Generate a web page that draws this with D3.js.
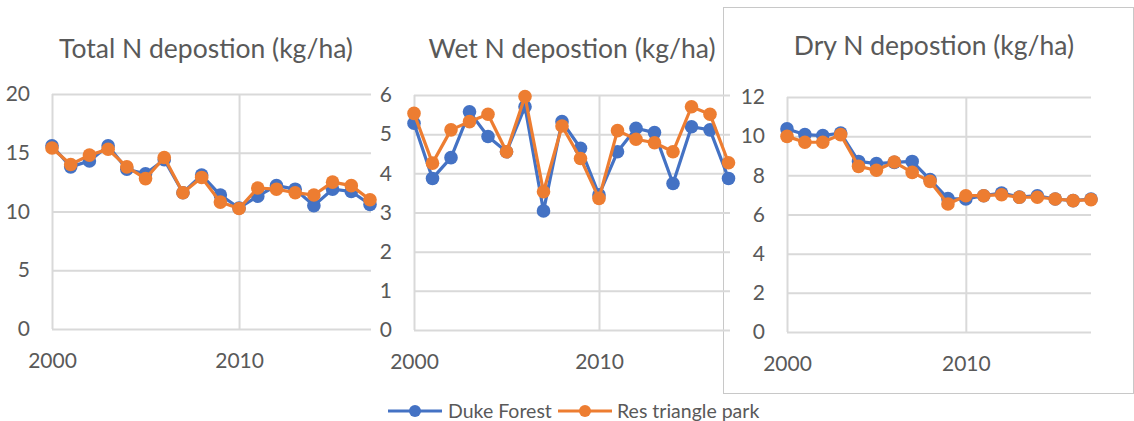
<!DOCTYPE html>
<html>
<head>
<meta charset="utf-8">
<script src="https://cdn.jsdelivr.net/npm/d3@7/dist/d3.min.js"></script>
<style>
  body { margin: 0; background: #fff; }
  text { font-family: Lato, "Open Sans", sans-serif; fill: #595959; }
</style>
</head>
<body>
<div id="chart"></div>
<script>
// Data
const years = [2000, 2001, 2002, 2003, 2004, 2005, 2006, 2007, 2008,
  2009, 2010, 2011, 2012, 2013, 2014, 2015, 2016, 2017]
const seriesNames = ['Duke Forest', 'Res triangle park']

const totalDuke = [15.6, 13.8, 14.3, 15.6, 13.6, 13.2, 14.4, 11.6, 13.1,
  11.4, 10.3, 11.3, 12.2, 11.9, 10.5, 11.9, 11.7, 10.6]
const totalRtp = [15.4, 14.0, 14.8, 15.3, 13.8, 12.8, 14.6, 11.6, 12.9,
  10.8, 10.25, 12.0, 11.9, 11.6, 11.4, 12.5, 12.2, 11.0]

const wetDuke = [5.28, 3.87, 4.4, 5.57, 4.94, 4.55, 5.7, 3.04, 5.32,
  4.64, 3.45, 4.55, 5.15, 5.04, 3.74, 5.19, 5.11, 3.87]
const wetRtp = [5.53, 4.26, 5.11, 5.32, 5.51, 4.55, 5.96, 3.53, 5.21,
  4.38, 3.36, 5.09, 4.87, 4.78, 4.55, 5.7, 5.51, 4.27]

const dryDuke = [10.37, 10.08, 10.03, 10.16, 8.71, 8.6, 8.66, 8.71, 7.78,
  6.81, 6.79, 6.96, 7.1, 6.89, 6.96, 6.79, 6.71, 6.79]
const dryRtp = [9.99, 9.69, 9.69, 10.08, 8.46, 8.26, 8.68, 8.15, 7.69,
  6.54, 6.96, 6.96, 7.01, 6.88, 6.88, 6.79, 6.71, 6.76]

const totalTicks = [0, 5, 10, 15, 20]
const wetTicks = [0, 1, 2, 3, 4, 5, 6]
const dryTicks = [0, 2, 4, 6, 8, 10, 12]
const yearTicks = [2000, 2010]

// Our canvas
const width = 1134,
  height = 421
const colors = ['#4472C4', '#ED7D31']
const gridColor = '#d9d9d9'

let svg = d3.select('#chart')
  .append('svg')
  .attr('width', width)
  .attr('height', height)

// frame of the dry chart, sits behind the wet one
svg.append('rect')
  .attr('x', 723.5).attr('y', 7.5)
  .attr('width', 410).attr('height', 386)
  .attr('fill', '#fff')
  .attr('stroke', '#c8c8c8')

let panels = [
  { title: 'Total N depostion (kg/ha)', series: [totalDuke, totalRtp], ticks: totalTicks,
    left: 52, end: 370, right: 371, top: 94, bottom: 329, titleX: 206, titleY: 58 },
  { title: 'Dry N depostion (kg/ha)', series: [dryDuke, dryRtp], ticks: dryTicks,
    left: 787, end: 1091, right: 1091, top: 97, bottom: 332, titleX: 934, titleY: 55 },
  { title: 'Wet N depostion (kg/ha)', series: [wetDuke, wetRtp], ticks: wetTicks,
    left: 414, end: 728.5, right: 730, top: 95, bottom: 330, titleX: 572, titleY: 58 }
]

let drawPanel = (p) => {
  let x = d3.scaleLinear()
    .domain([years[0], years[years.length - 1]])
    .range([p.left, p.end])
  let y = d3.scaleLinear()
    .domain([0, d3.max(p.ticks)])
    .range([p.bottom, p.top])

  let g = svg.append('g')

  // horizontal grid + y labels
  let yAxis = d3.axisLeft(y)
    .tickValues(p.ticks)
    .tickFormat(d3.format('d'))
    .tickSize(-(p.right - p.left))
    .tickPadding(22)
  g.append('g')
    .attr('transform', `translate(${p.left},0)`)
    .call(yAxis)
    .call(a => a.select('.domain').remove())
    .call(a => a.selectAll('line').attr('stroke', gridColor).attr('stroke-width', 2))
    .call(a => a.selectAll('text').attr('font-size', 21).style('fill', '#595959'))

  // vertical grid + year labels
  let xAxis = d3.axisBottom(x)
    .tickValues(yearTicks)
    .tickFormat(d3.format('d'))
    .tickSize(-(p.bottom - p.top))
    .tickPadding(24)
  g.append('g')
    .attr('transform', `translate(0,${p.bottom})`)
    .call(xAxis)
    .call(a => a.select('.domain').remove())
    .call(a => a.selectAll('line').attr('stroke', gridColor).attr('stroke-width', 2))
    .call(a => a.selectAll('text').attr('font-size', 21).style('fill', '#595959'))

  g.append('text')
    .attr('x', p.titleX)
    .attr('y', p.titleY)
    .attr('text-anchor', 'middle')
    .attr('font-size', 26.5)
    .text(p.title)

  let line = d3.line()
    .x((d, i) => x(years[i]))
    .y(d => y(d))

  p.series.forEach((vals, k) => {
    g.append('path')
      .datum(vals)
      .attr('d', line)
      .attr('fill', 'none')
      .attr('stroke', colors[k])
      .attr('stroke-width', 3.2)
      .attr('stroke-linejoin', 'round')
    g.selectAll('.dot' + k)
      .data(vals)
      .enter()
      .append('circle')
      .attr('cx', (d, i) => x(years[i]))
      .attr('cy', d => y(d))
      .attr('r', 6.8)
      .attr('fill', colors[k])
  })
}

panels.forEach(drawPanel)

// legend
let legendItems = [
  { name: seriesNames[0], x0: 388, x1: 442, tx: 448 },
  { name: seriesNames[1], x0: 558, x1: 612, tx: 617 }
]
let legend = svg.append('g')
legendItems.forEach((it, k) => {
  legend.append('line')
    .attr('x1', it.x0).attr('x2', it.x1)
    .attr('y1', 411).attr('y2', 411)
    .attr('stroke', colors[k])
    .attr('stroke-width', 3.2)
  legend.append('circle')
    .attr('cx', (it.x0 + it.x1) / 2)
    .attr('cy', 411)
    .attr('r', 6)
    .attr('fill', colors[k])
  legend.append('text')
    .attr('x', it.tx)
    .attr('y', 411)
    .attr('dy', '0.35em')
    .attr('font-size', 19.5)
    .text(it.name)
})
</script>
</body>
</html>
